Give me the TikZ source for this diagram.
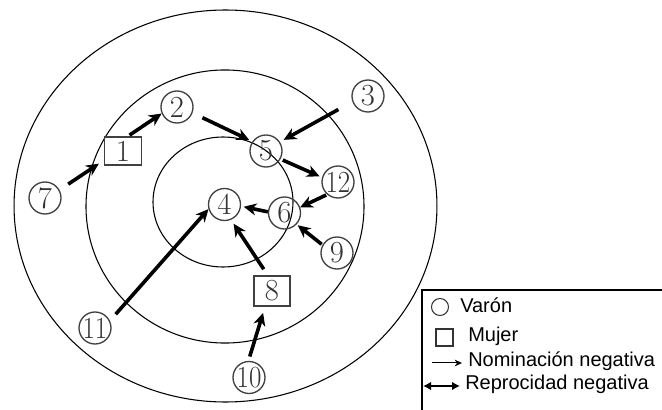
\documentclass[tikz,border=0pt]{standalone}
\usepackage{fontspec}
\newfontfamily\legendfont{Liberation Sans}
\usetikzlibrary{arrows.meta}
\newcommand{\twodig}[1]{\makebox[0pt]{\scalebox{0.88}[1]{#1}}}
\begin{document}
\begin{tikzpicture}[x=0.75pt,y=-0.75pt,
  person/.style={circle,draw=black!75,line width=1pt,minimum size=24pt,inner sep=0pt,text=black!80,font=\fontsize{23}{23}\selectfont},
  woman/.style={rectangle,draw=black!75,line width=1pt,inner sep=0pt,text=black!80,font=\fontsize{23}{23}\selectfont},
  nom/.style={line width=2.7pt,-{Stealth[length=9.5pt,width=9pt,inset=3pt]}},
  ring/.style={line width=0.8pt},
  legtext/.style={anchor=base west,inner sep=0pt,font=\legendfont\fontsize{15}{15}\selectfont}]
\useasboundingbox (0,0) rectangle (662,410);
\fill[white] (0,0) rectangle (662,410);
% rings
\draw[ring] (225.5,206) ellipse [x radius=158.6pt,y radius=147pt];
\draw[ring] (225,206.5) ellipse [x radius=104.25pt,y radius=102.4pt];
\draw[ring] (223,202) ellipse [x radius=52.5pt,y radius=48.75pt];
% people
\node[woman,minimum width=27.75pt,minimum height=21pt] (n1) at (123,151) {1};
\node[person] (n2) at (177,107) {2};
\node[person] (n3) at (368,96) {3};
\node[person] (n4) at (224.5,204.5) {4};
\node[person] (n5) at (266,151) {5};
\node[person] (n6) at (284.5,213) {6};
\node[person] (n7) at (45,198) {7};
\node[woman,minimum width=27pt,minimum height=22.5pt] (n8) at (272,291) {8};
\node[person] (n9) at (337,253) {9};
\node[person] (n10) at (249,377.5) {\twodig{10}};
\node[person] (n11) at (95,328) {\twodig{11}};
\node[person] (n12) at (338,182) {\twodig{12}};
% negative nominations
\draw[nom,shorten <=7.8pt,shorten >=4.5pt] (n7.29.5) -- (n1.206.6);
\draw[nom,shorten <=1.6pt] (n1.72.6) -- (n2.203);
\draw[nom,shorten <=8.2pt,shorten >=2.6pt] (n2.-21.8) -- (n5.145.5);
\draw[nom,shorten <=12pt,shorten >=3.2pt] (n3.200) -- (n5.33);
\draw[nom,shorten <=1.8pt,shorten >=2pt] (n5.-29.4) -- (n12.164.5);
\draw[nom,shorten <=0.75pt] (n12.229.8) -- (n6.20.3);
\draw[nom,shorten >=2pt] (n6.176) -- (n4.-6.2);
\draw[nom,shorten <=0.75pt,shorten >=1pt] (n9.151.9) -- (n6.-43.8);
\draw[nom,shorten <=5.5pt,shorten >=3.5pt] (n8.105.3) -- (n4.-67.7);
\draw[nom,shorten <=6.5pt] (n11.26.6) -- (n4.196);
\draw[nom,shorten <=3.4pt,shorten >=4.9pt] (n10.92.8) -- (n8.246.8);
% legend
\fill[white] (422,290) rectangle (664,412);
\draw[line width=1pt] (422,412) -- (422,290) -- (664,290);
\node[circle,draw=black!80,line width=0.8pt,minimum size=12.75pt,inner sep=0pt] (lc) at (440,307) {};
\node[rectangle,draw=black!80,line width=0.8pt,minimum size=12.75pt,inner sep=0pt] (ls) at (444.5,337.5) {};
\coordinate (la1) at (432,363);
\coordinate (la2) at (462,363);
\draw[line width=0.75pt,-{Stealth[length=5.5pt,width=5pt]}] (la1) -- (la2);
\coordinate (lb1) at (423,386);
\coordinate (lb2) at (460,386);
\draw[line width=2pt,{Latex[length=6pt,width=6.5pt]}-{Latex[length=6pt,width=6.5pt]}] (lb1) -- (lb2);
\node[legtext] (t1) at (460,313) {Varón};
\node[legtext] (t2) at (468,342) {Mujer};
\node[legtext] (t3) at (468,367) {Nominación negativa};
\node[legtext] (t4) at (465,390) {Reprocidad negativa};
\end{tikzpicture}
\end{document}
